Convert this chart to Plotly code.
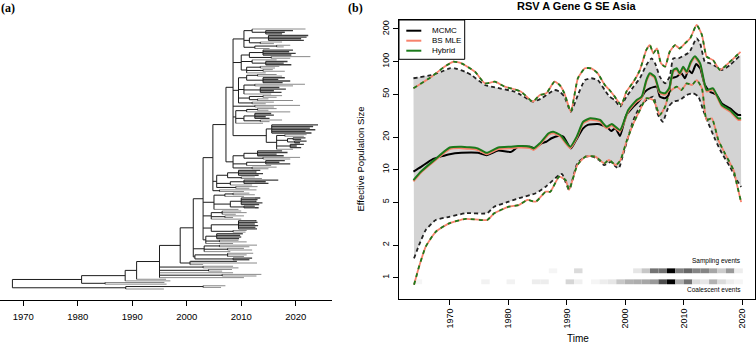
import plotly.graph_objects as go

W, H = 756, 344

# ---------------- panel (b): effective population size estimates ----------------
mcmc_med_t = [1963.8, 1965.1, 1967.1, 1970.0, 1972.0, 1974.8, 1976.3, 1978.3, 1980.5, 1981.7,
              1983.7, 1984.5, 1985.7, 1986.5, 1987.4, 1988.5, 1989.4, 1990.7, 1991.6, 1992.8,
              1993.6, 1995.3, 1996.8, 1997.6, 1998.3, 1999.1, 1999.9, 2000.2, 2001.4, 2002.5, 2003.4,
              2004.2, 2005.4, 2005.9, 2006.8, 2007.4, 2007.9, 2008.8, 2009.6, 2010.2, 2010.8,
              2011.4, 2012.1, 2012.8, 2013.6, 2014.5, 2015.6, 2016.5, 2017.9, 2019.3, 2019.8]
mcmc_med = [9.6, 10.6, 12.5, 13.9, 14.3, 14.3, 13.6, 15.0, 14.6, 16.3,
            16.3, 15.8, 17.5, 18.1, 19.5, 20.5, 20.2, 15.7, 18.8, 24.1,
            25.9, 26.4, 24.9, 22.8, 24.1, 20.5, 28.8, 32.0, 38.2, 44.0, 52.6,
            56.5, 58.5, 47.3, 45.7, 49.0, 70.0, 72.4, 77.8, 70.0, 83.4,
            77.8, 94.8, 86.5, 60.6, 52.6, 49.0, 41.0, 36.9, 32.0, 32.0]

hyb_med_t = [1963.8, 1965.1, 1967.4, 1970.0, 1972.0, 1974.8, 1976.3, 1978.3, 1980.5, 1981.7,
             1983.7, 1984.3, 1985.4, 1986.9, 1987.7, 1988.9, 1990.6, 1991.7, 1992.8, 1994.0,
             1995.7, 1996.8, 1997.7, 1999.1, 2000.5, 2001.95, 2002.8, 2003.6, 2004.2, 2005.05,
             2005.9, 2006.8, 2007.5, 2008.2, 2008.8, 2009.3, 2009.9, 2010.5, 2011.2, 2011.9,
             2012.8, 2013.9, 2015.0, 2016.5, 2017.9, 2019.3, 2019.8]
hyb_med = [8.0, 9.6, 12.3, 16.0, 16.3, 15.7, 14.3, 16.0, 16.3, 16.5,
           16.3, 15.7, 17.5, 21.7, 22.4, 20.9, 16.3, 20.2, 27.7, 29.8,
           28.8, 24.9, 26.4, 23.2, 35.6, 44.0, 47.3, 67.4, 77.8, 72.4,
           52.6, 50.8, 56.5, 83.4, 86.5, 77.8, 89.5, 80.5, 99.5, 112.0,
           96.2, 54.5, 56.5, 39.6, 35.6, 29.8, 29.8]
bs_med_t = hyb_med_t
bs_med = [7.8, 9.4, 12.0, 15.5, 15.8, 15.2, 13.9, 15.5, 15.8, 16.0,
          15.8, 15.2, 17.0, 21.0, 21.7, 20.3, 15.8, 19.6, 26.8, 28.9,
          27.9, 24.1, 25.6, 22.5, 34.5, 42.6, 45.8, 65.3, 75.4, 70.2,
          51.0, 49.2, 54.7, 80.8, 83.8, 75.4, 86.7, 78.0, 96.4, 108.5,
          93.2, 52.8, 54.7, 38.4, 34.5, 28.9, 28.9]

mcmc_up_t = [1963.8, 1966.9, 1968.6, 1970.0, 1970.85, 1972.6, 1973.7, 1976.0, 1977.7, 1981.1,
             1982.2, 1984.2, 1985.7, 1986.5, 1987.9, 1988.8, 1989.6, 1990.7, 1991.9, 1993.1,
             1994.2, 1995.3, 1996.5, 1997.3, 1998.2, 1999.1, 2000.2, 2001.4, 2002.5, 2003.6,
             2004.5, 2005.1, 2005.9, 2006.8, 2007.6, 2008.2, 2009.1, 2010.2, 2011.0, 2012.2,
             2012.8, 2013.6, 2014.5, 2015.6, 2016.5, 2017.9, 2019.7]
mcmc_up = [70.0, 75.0, 80.5, 86.5, 86.5, 80.5, 75.0, 60.6, 57.7, 52.6,
           49.0, 42.5, 45.7, 49.0, 54.5, 52.6, 47.3, 34.3, 49.0, 67.4,
           70.0, 67.4, 54.5, 47.3, 44.0, 38.2, 47.3, 58.5, 70.0, 92.8,
           107.0, 96.2, 72.4, 62.8, 72.4, 107.0, 107.0, 115.0, 123.0, 164.0,
           147.0, 99.5, 96.2, 89.5, 83.4, 92.8, 115.0]

mcmc_lo_t = [1963.9, 1964.75, 1965.9, 1967.6, 1969.9, 1972.7, 1976.4, 1977.6, 1980.1, 1981.8,
             1984.7, 1986.4, 1988.7, 1989.2, 1990.4, 1991.8, 1993.2, 1994.4, 1995.5, 1996.4,
             1997.5, 1998.4, 1998.9, 1999.7, 2001.4, 2002.5, 2003.6, 2004.8, 2005.6, 2006.4,
             2007.4, 2008.2, 2009.3, 2010.5, 2011.6, 2012.5, 2013.3, 2014.2, 2015.4, 2016.5,
             2017.9, 2019.05, 2019.8]
mcmc_lo = [1.51, 2.0, 2.76, 3.42, 3.65, 3.95, 3.95, 4.54, 5.05, 5.43,
           6.04, 6.95, 8.9, 9.1, 6.5, 11.4, 13.2, 13.2, 12.3, 11.0,
           11.8, 10.6, 10.3, 14.2, 28.8, 38.2, 44.0, 47.3, 32.0, 27.7,
           38.2, 42.5, 44.0, 49.0, 50.8, 47.3, 35.6, 26.8, 18.8, 14.2,
           10.6, 8.0, 6.9]

hyb_up_t = [1963.8, 1966.9, 1969.1, 1970.6, 1972.0, 1974.3, 1976.0, 1977.7, 1979.4, 1981.1,
            1982.2, 1984.2, 1985.4, 1986.5, 1987.9, 1988.8, 1989.6, 1990.7, 1991.9, 1993.1,
            1994.2, 1995.3, 1996.5, 1997.3, 1998.2, 1999.3, 2000.2, 2001.4, 2002.5, 2003.6,
            2004.2, 2004.8, 2005.4, 2006.1, 2006.8, 2007.6, 2008.5, 2009.3, 2010.2, 2011.1,
            2012.2, 2013.1, 2013.9, 2015.0, 2016.2, 2017.6, 2019.7]
hyb_up = [56.5, 72.4, 89.5, 99.5, 96.2, 80.5, 62.8, 65.0, 58.5, 55.3,
          52.6, 42.5, 49.0, 50.8, 65.0, 60.6, 50.8, 34.3, 70.0, 86.5,
          86.5, 77.8, 60.6, 54.5, 47.3, 39.6, 52.6, 65.0, 83.4, 128.0,
          142.0, 119.0, 132.0, 96.2, 89.5, 123.0, 142.0, 132.0, 147.0, 164.0,
          218.0, 176.0, 111.0, 103.0, 83.4, 96.2, 123.0]

hyb_lo_t = [1963.9, 1964.75, 1965.9, 1967.6, 1969.9, 1972.7, 1976.4, 1977.6, 1980.1, 1981.8,
            1983.3, 1984.7, 1986.4, 1987.2, 1988.7, 1989.8, 1990.4, 1991.8, 1993.2, 1994.9,
            1996.4, 1997.2, 1998.4, 1999.2, 2000.2, 2001.4, 2002.5, 2003.6, 2004.8, 2005.9,
            2006.8, 2007.6, 2008.8, 2009.6, 2010.5, 2011.4, 2012.2, 2013.1, 2013.9, 2014.8,
            2015.9, 2017.0, 2018.5, 2019.05, 2019.8]
hyb_lo = [0.86, 1.26, 1.94, 2.66, 3.18, 3.5, 3.42, 3.94, 4.54, 4.7,
          5.24, 5.05, 6.25, 6.25, 8.6, 8.0, 6.5, 11.0, 13.2, 13.2,
          11.4, 12.3, 11.0, 12.3, 18.1, 26.8, 35.6, 45.7, 44.0, 32.0,
          38.2, 52.6, 58.5, 54.5, 62.8, 60.6, 67.4, 56.5, 28.8, 29.8,
          18.8, 14.2, 9.9, 7.4, 5.0]
bs_up_t, bs_up = hyb_up_t, hyb_up
bs_lo_t, bs_lo = hyb_lo_t, hyb_lo

# event strips (shade: 1 = white, 0 = black), 39 bins
event_bin_start = 1963.85
event_bin_width = 1.442
sampling_shade = [1, 1, 1, 1, 1, 1, 1, 1, 1, 1,
                  1, 1, 1, 1, 1, 1, 0.96, 1, 1, 0.86,
                  1, 1, 1, 1, 1, 1, 0.9, 0.78, 0.45, 0.45,
                  0.0, 0.5, 0.4, 0.52, 0.52, 0.65, 0.8, 0.6, 0.93]
coalescent_shade = [0.96, 1, 1, 1, 1, 1, 1, 1, 0.95, 1,
                    1, 0.95, 1, 1, 0.93, 0.93, 1, 1, 0.84, 0.94,
                    1, 0.96, 0.93, 0.9, 0.78, 0.7, 0.68, 0.65, 0.6, 0.3,
                    0.0, 0.68, 0.45, 0.86, 0.9, 0.7, 0.86, 0.93, 0.96]
sampling_band = (1.10, 1.22)
coalescent_band = (0.87, 0.965)

y_ticks_b = [1, 2, 5, 10, 20, 50, 100, 200]
x_ticks = [1970, 1980, 1990, 2000, 2010, 2020]

# ---------------- panel (a): time-scaled tree ----------------
# [node date, children...]; a tuple node marks a densely sampled (dark) group
C1 = [2010.5,
      [2012.0, 2021.8, (2014.5, 2019.5, 2018.0, 2017.5)],
      [2011.5, (2015.0, 2022.3, 2022.0, 2021.0, 2021.5), [2013.5, 2017.5, 2016.0]],
      [2012.5, [2016.5, 2019.0, 2017.8], 2015.2]]
C2 = [2010.0,
      [2011.5, (2014.0, 2019.5, 2018.8, 2020.0, 2019.2), [2015.5, 2022.7, 2019.0]],
      [2012.0, 2016.5, (2014.5, 2018.5, 2017.8, 2019.2)],
      [2011.0, [2013.5, 2017.0, 2016.2], [2014.0, 2015.8, 2018.0], 2014.5]]
C3 = [2009.5,
      [2011.0, [2013.0, 2016.5, 2017.5], (2014.0, 2018.0, 2016.8, 2019.0, 2017.6)],
      [2010.5, [2012.5, 2021.7, 2019.5], (2013.5, 2017.0, 2018.2, 2016.0, 2017.4), 2015.5],
      [2011.5, [2014.0, 2017.5, 2016.5], [2013.0, 2015.0, 2019.5]],
      [2012.0, 2016.0, 2014.5]]
C4 = [2012.5, 2020.8, 2016.0]
C5 = [2009.0,
      [2011.0, [2013.0, 2016.5, 2015.0], 2019.0],
      [2010.5, (2012.5, 2015.5, 2016.0, 2014.5, 2015.2), [2013.5, 2017.5, 2015.2]],
      2014.0]
C6 = [2014.6,
      (2015.6, 2024.1, 2023.2, 2022.6, 2023.6, 2021.8, 2022.9),
      [2016.5, [2018.0, 2022.0, 2021.5],
       (2018.5, [2019.5, 2021.8, 2021.0], [2019.8, 2022.0, 2020.8]),
       (2019.0, 2021.5, 2020.2, 2021.0), 2019.5]]
C7 = [2008.5,
      [2010.5, (2013.0, 2017.5, 2018.5, 2016.5, 2017.8), [2014.0, 2020.8, 2019.0]],
      [2011.0, (2014.5, 2018.0, 2017.0, 2019.0), 2015.5],
      [2012.0, 2016.5, 2015.0]]
C8 = [2005.5,
      [2007.5, (2009.5, 2013.5, 2012.8, 2014.0, 2013.2), [2010.0, 2012.5, 2013.8]],
      [2008.0, (2010.5, 2016.8, 2014.5, 2015.0), 2012.0],
      [2009.0, 2013.0, 2011.5]]
C8b = [2006.0, 2012.8, 2010.5]
C9 = [2005.0,
      [2007.0, [2008.5, 2011.5, 2012.5], 2010.5],
      [2008.0, (2010.0, 2013.5, 2013.0, 2012.8, 2013.9, 2013.3), (2010.5, 2012.5, 2013.2)],
      2009.5]
C10 = [2004.5, [2006.5, 2010.0, 2011.0, 2009.0], [2007.0, 2010.5, 2008.5], 2010.0]
C11 = [2004.5, (2009.5, 2012.8, 2013.0, 2012.5, 2013.1, 2012.6, 2012.9), [2008.5, 2011.0, 2010.8]]
C12 = [2003.5, (2005.5, 2010.3, 2009.8, 2010.0, 2009.6), [2006.0, 2009.5, 2011.0], 2008.5]
C13 = [2003.2, [2006.0, 2012.9, 2011.5], [2007.5, 2010.5, 2012.0], 2008.0]
C14 = [2001.5, [2007.5, 2012.2, 2011.0, 2010.5], (2008.5, 2012.0, 2011.5)]
C15 = [2000.6, (2000.7, 2009.2), 2012.9, 2003.0]
fan = [[2003.0, 2008.5, 2009.5], [2004.0, 2008.3, 2006.5], 2008.5,
       [2006.5, 2013.7, 2012.8], 2010.5]

T8 = [2008.5, C1, C2, C3, C4, C5, C6]
T7 = [2007.2, T8, C7]
T6 = [2004.8, T7, C8, C8b]
T5 = [2003.0, T6, C9, C10, C11, C12]
T4 = [2001.2, T5, C13, C14]
T3 = [1998.8, T4, C15]
M3 = [1995.0, T3] + fan
M2 = [1990.8, M3, 1996.2]
M1 = [1988.7, M2, 1997.0]
A = [1980.7, M1, [1985.0, 1995.9, 1996.3]]
B = [1988.8, [2003.0, 2007.1, 2006.3], 1995.8]
tree = [1968.0, A, B]


def tree_segments(root):
    count = [0]
    seg = {"tip": ([], []), "dark": ([], []), "int": ([], [])}

    def add(kind, x0, x1, y0, y1):
        xs, ys = seg[kind]
        xs.extend([x0, x1, None]); ys.extend([y0, y1, None])

    def walk(node, parent, dark):
        if not isinstance(node, (list, tuple)):
            y = count[0]
            count[0] += 1
            add("dark" if dark else "tip", parent, node, y, y)
            return y
        dark = dark or isinstance(node, tuple)
        date = node[0]
        ys = [walk(c, date, dark) for c in node[1:]]
        y = (ys[0] + ys[-1]) / 2
        add("int", date, date, min(ys), max(ys))
        if parent is not None:
            add("int", parent, date, y, y)
        return y

    walk(root, None, False)
    return seg, count[0]


seg, n_tips = tree_segments(tree)

fig = go.Figure()

# tree
tree_styles = {"tip": ("#8a8a8a", 1.0), "dark": ("#3c3c3c", 1.3), "int": ("#1c1c1c", 1.0)}
for kind in ["tip", "dark", "int"]:
    col, wd = tree_styles[kind]
    xs, ys = seg[kind]
    fig.add_trace(go.Scatter(x=xs, y=ys, mode="lines", line=dict(color=col, width=wd),
                             xaxis="x", yaxis="y", showlegend=False, hoverinfo="skip"))

# grey MCMC band
fig.add_trace(go.Scatter(x=mcmc_up_t + mcmc_lo_t[::-1], y=mcmc_up + mcmc_lo[::-1],
                         mode="lines", fill="toself", fillcolor="#d3d3d3",
                         line=dict(width=0, color="#d3d3d3"), xaxis="x2", yaxis="y2",
                         showlegend=False, hoverinfo="skip"))

SALMON = "#f7826c"
GREEN = "#1b7a1b"
SP = dict(shape="spline", smoothing=0.5)


def line(t, v, color, width=1.8, dash="solid"):
    return go.Scatter(x=t, y=v, mode="lines", xaxis="x2", yaxis="y2", showlegend=False,
                      hoverinfo="skip", line=dict(color=color, width=width, dash=dash, **SP))


# bounds
fig.add_trace(line(mcmc_up_t, mcmc_up, "#222222", dash="4px,3px"))
fig.add_trace(line(mcmc_lo_t, mcmc_lo, "#222222", dash="4px,3px"))
fig.add_trace(line(bs_up_t, bs_up, SALMON))
fig.add_trace(line(bs_lo_t, bs_lo, SALMON))
fig.add_trace(line(hyb_up_t, hyb_up, GREEN, dash="4px,4px"))
fig.add_trace(line(hyb_lo_t, hyb_lo, GREEN, dash="4px,4px"))
# medians
fig.add_trace(line(mcmc_med_t, mcmc_med, "#000000", width=2))
fig.add_trace(line(bs_med_t, bs_med, SALMON, width=2))
fig.add_trace(line(hyb_med_t, hyb_med, GREEN, width=2))


def strip(shades, band):
    xs, cols = [], []
    for k, s in enumerate(shades):
        if s < 1:
            xs.append(event_bin_start + (k + 0.5) * event_bin_width)
            g = int(round(255 * s))
            cols.append(f"rgb({g},{g},{g})")
    lo, hi = band
    return go.Bar(x=xs, y=[hi - lo] * len(xs), base=[lo] * len(xs), width=event_bin_width,
                  marker=dict(color=cols, line=dict(width=0)), xaxis="x2", yaxis="y2",
                  showlegend=False, hoverinfo="skip")


fig.add_trace(strip(sampling_shade, sampling_band))
fig.add_trace(strip(coalescent_shade, coalescent_band))


def px(x):
    return x / W


def py(y):
    return 1 - y / H


# axis ranges from pixel layout
unit = (289 - 29) / (n_tips - 1)
ya_range = [(300 - 29) / unit, -29 / unit]

FONT = "Liberation Sans, Arial, sans-serif"

fig.update_layout(
    width=W, height=H, margin=dict(l=0, r=0, t=0, b=0),
    paper_bgcolor="white", plot_bgcolor="white", barmode="overlay",
    font=dict(family=FONT, color="black"),
    xaxis=dict(domain=[0, px(331.7)], range=[1965.72, 2026.61], tickvals=x_ticks,
               ticks="outside", ticklen=5, tickcolor="black", showline=True,
               linecolor="black", linewidth=1, showgrid=False, zeroline=False,
               tickfont=dict(size=9.5, family=FONT, color="black"), ticklabelstandoff=3),
    yaxis=dict(domain=[py(300), 1], range=ya_range, visible=False, showgrid=False),
    xaxis2=dict(domain=[px(399), px(755)], range=[1961.33, 2022.17], tickvals=x_ticks,
                ticks="outside", ticklen=5, tickcolor="black", showline=True, mirror=True,
                linecolor="black", linewidth=1, showgrid=False, zeroline=False,
                tickangle=-90, tickfont=dict(size=9, family=FONT, color="black"), anchor="y2"),
    yaxis2=dict(domain=[py(299), py(20)], type="log", range=[-0.197, 2.384],
                tickvals=y_ticks_b, ticktext=[str(v) for v in y_ticks_b],
                ticks="outside", ticklen=5, tickcolor="black", showline=True, mirror=True,
                linecolor="black", linewidth=1, showgrid=False, zeroline=False,
                tickangle=-90, tickfont=dict(size=9, family=FONT, color="black"), anchor="x2"),
)

ann = [
    dict(text="<b>(a)</b>", x=px(8), y=py(8), font=dict(family="Liberation Serif", size=12)),
    dict(text="<b>(b)</b>", x=px(355.5), y=py(8), font=dict(family="Liberation Serif", size=12)),
    dict(text="<b>RSV A Gene G SE Asia</b>", x=px(576.5), y=py(5.5), font=dict(size=11)),
    dict(text="Effective Population Size", x=px(360), y=py(159.5), textangle=-90,
         font=dict(size=9.5)),
    dict(text="Time", x=px(577.5), y=py(338), font=dict(size=10)),
    dict(text="Sampling events", x=px(742.5), y=py(261), xanchor="right", font=dict(size=6.5)),
    dict(text="Coalescent events", x=px(742.5), y=py(289), xanchor="right", font=dict(size=6.5)),
]
legend_items = [("MCMC", "#000000", 30.7), ("BS MLE", SALMON, 40.7), ("Hybrid", GREEN, 50.7)]
for name, col, yy in legend_items:
    ann.append(dict(text=name, x=px(429.5), y=py(yy), xanchor="left", font=dict(size=8)))
for a in ann:
    a.setdefault("xanchor", "center")
    a["font"].setdefault("family", FONT)
    a["font"]["color"] = "black"
    a.update(xref="paper", yref="paper", yanchor="middle", showarrow=False)
fig.update_layout(annotations=ann)

shapes = [dict(type="rect", xref="paper", yref="paper", x0=px(399), x1=px(464.7),
               y0=py(59.3), y1=py(20), line=dict(color="black", width=1), fillcolor="white",
               layer="above")]
for name, col, yy in legend_items:
    shapes.append(dict(type="line", xref="paper", yref="paper", x0=px(406.3), x1=px(421.3),
                       y0=py(yy), y1=py(yy), line=dict(color=col, width=2), layer="above"))
fig.update_layout(shapes=shapes)

fig.write_html("out.html", config={"displayModeBar": False},
               post_script="document.body.style.margin='0px';")
